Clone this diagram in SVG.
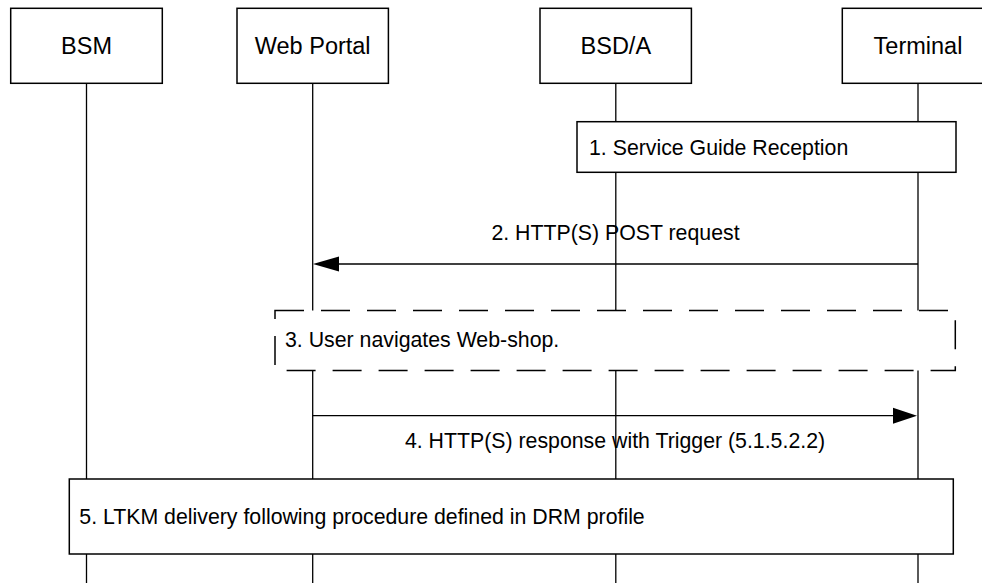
<svg xmlns="http://www.w3.org/2000/svg" width="982" height="583" viewBox="0 0 982 583">
<style>
.box{fill:#fff;stroke:#000;stroke-width:1.5}
.life{stroke:#000;stroke-width:1.3;fill:none}
.msg{stroke:#000;stroke-width:1.3;fill:none}
.head{fill:#000;stroke:none}
.hdr{font-family:"Liberation Sans",Arial,sans-serif;font-size:23.5px;fill:#000;text-anchor:middle}
.lbl{font-family:"Liberation Sans",Arial,sans-serif;font-size:21.3px;fill:#000}
.dash{fill:#fff;stroke:#000;stroke-width:1.5;stroke-dasharray:29 17}
</style>
<rect width="982" height="583" fill="#fff"/>
<g id="lifelines">
<line class="life" x1="86.5" y1="83" x2="86.5" y2="583"/>
<line class="life" x1="312.7" y1="83" x2="312.7" y2="583"/>
<line class="life" x1="615.8" y1="83" x2="615.8" y2="583"/>
<line class="life" x1="918" y1="83" x2="918" y2="583"/>
</g>
<g id="bsm"><rect class="box" x="10.7" y="8.3" width="151.6" height="75"/><text class="hdr" x="86.5" y="54">BSM</text></g>
<g id="webportal"><rect class="box" x="237" y="8.3" width="151.4" height="75"/><text class="hdr" x="312.7" y="54">Web Portal</text></g>
<g id="bsda"><rect class="box" x="540" y="8.3" width="151.4" height="75"/><text class="hdr" x="615.8" y="54">BSD/A</text></g>
<g id="terminal"><rect class="box" x="842.3" y="8.3" width="151.4" height="75"/><text class="hdr" x="918" y="54">Terminal</text></g>
<g id="step1"><rect class="box" x="577" y="121.7" width="379" height="50.6"/><text class="lbl" x="589" y="154.5">1. Service Guide Reception</text></g>
<g id="step3"><path class="dash" d="M275,310.5 H955.3 V370.5 H275 Z"/><text class="lbl" x="285" y="346.5">3. User navigates Web-shop.</text></g>
<g id="step5"><rect class="box" x="69.3" y="479" width="884" height="75"/><text class="lbl" x="79.3" y="523.5">5. LTKM delivery following procedure defined in DRM profile</text></g>
<g id="connectors">
<line class="msg" x1="918" y1="264" x2="330" y2="264"/>
<polygon class="head" points="313,264 339,256.5 339,271.5"/>
<text class="lbl" x="615.5" y="240" text-anchor="middle">2. HTTP(S) POST request</text>
<line class="msg" x1="312.7" y1="415.7" x2="900" y2="415.7"/>
<polygon class="head" points="917,415.7 893,407.7 893,423.7"/>
<text class="lbl" x="615" y="448" text-anchor="middle">4. HTTP(S) response with Trigger (5.1.5.2.2)</text>
</g>
</svg>
